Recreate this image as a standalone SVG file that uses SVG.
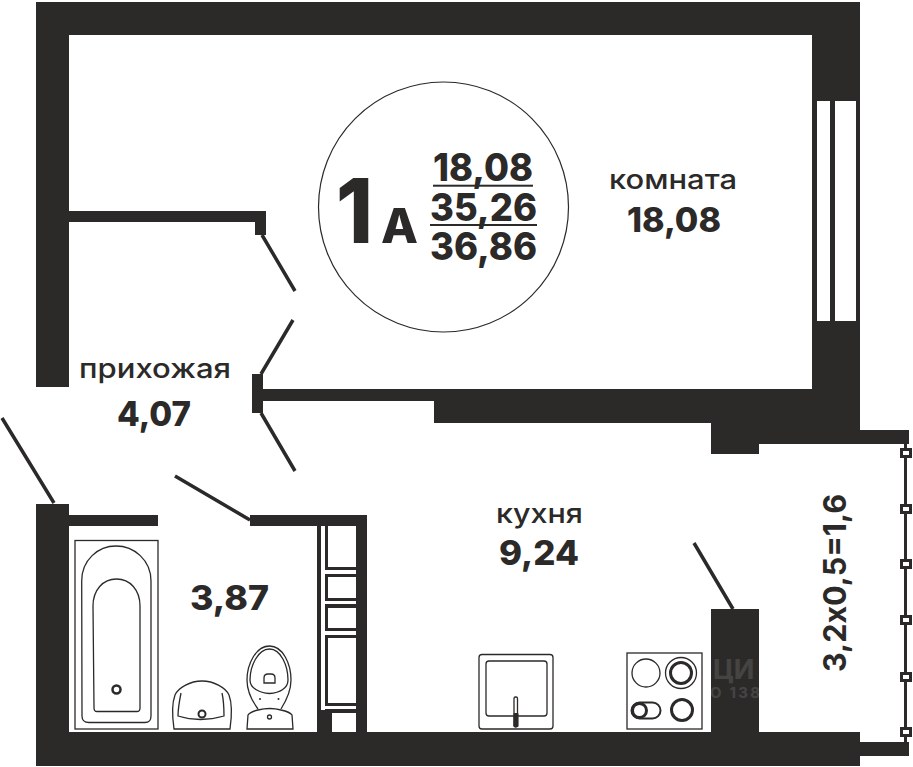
<svg xmlns="http://www.w3.org/2000/svg" width="913" height="767" viewBox="0 0 913 767">
<style>
.w{fill:#2b2a29}
.h{fill:#fff}
.t{fill:none;stroke:#2b2a29;stroke-width:1.3}
.m{fill:none;stroke:#2b2a29;stroke-width:3}
.d{stroke:#2b2a29;stroke-width:3.5;fill:none}
text{font-family:"Inter","Open Sans","Liberation Sans",sans-serif;fill:#2b2a29}
.l{font-size:27px;font-weight:500}
.n{font-size:34px;font-weight:800}
.c{font-size:38px;font-weight:800}
.p{fill:#fff;stroke:#2b2a29;stroke-width:3}
</style>
<rect width="913" height="767" fill="#fff"/>
<g id="walls">
<path class="w" d="M36 2H860V430H909V444H759V454H711V423H434V401H263V413H252V374H263V389H812V35H69V211H266V235H255V222H69V387H36Z"/>
<path class="w" d="M36 504H69V515H158V526H69V732H711V609H759V732H860V742H909V756H860V766H36Z"/>
<path class="w" d="M250 515H367V732H356V526H250Z"/>
</g>
<g id="window">
<rect class="h" x="817" y="101" width="13" height="220"/>
<rect class="h" x="835" y="101" width="21" height="220"/>
</g>
<g id="shaft">
<rect class="w" x="317" y="526" width="39" height="206"/>
<rect class="h" x="321" y="526" width="4" height="184"/>
<rect class="h" x="328" y="526" width="28" height="41"/>
<rect class="h" x="325" y="570" width="31" height="4"/>
<rect class="h" x="328" y="577" width="28" height="21"/>
<rect class="h" x="325" y="601" width="31" height="3"/>
<rect class="h" x="328" y="608" width="28" height="20"/>
<rect class="h" x="325" y="631" width="31" height="4"/>
<rect class="h" x="328" y="638" width="28" height="65"/>
<rect class="h" x="325" y="706" width="31" height="3"/>
<rect class="h" x="332" y="713" width="24" height="19"/>
</g>
<g id="doors">
<path class="d" d="M262 235L295 291M293 320L261 374M261 413L295 471"/>
<path class="d" d="M2 418L54 503M175 476L250 520M694 543L733 609"/>
</g>
<g id="badge">
<circle cx="443.5" cy="207" r="125" fill="none" stroke="#2b2a29" stroke-width="1.2"/>
<text x="336" y="243" font-size="90" font-weight="800" textLength="37" lengthAdjust="spacingAndGlyphs">1</text>
<text x="381" y="243" font-size="48" font-weight="800" textLength="37" lengthAdjust="spacingAndGlyphs">А</text>
<text class="c" x="433" y="181" textLength="100" lengthAdjust="spacingAndGlyphs">18,08</text>
<text class="c" x="430" y="220.500" textLength="107" lengthAdjust="spacingAndGlyphs">35,26</text>
<text class="c" x="430" y="260" textLength="107" lengthAdjust="spacingAndGlyphs">36,86</text>
<rect class="w" x="433" y="184.700" width="100" height="2"/>
<rect class="w" x="430" y="224" width="107" height="2"/>
</g>
<g id="room"><text class="l" x="609" y="189" textLength="128" lengthAdjust="spacingAndGlyphs">комната</text>
<text class="n" x="627" y="232" textLength="94" lengthAdjust="spacingAndGlyphs">18,08</text></g>
<g id="hall"><text class="l" x="79" y="378" textLength="152" lengthAdjust="spacingAndGlyphs">прихожая</text>
<text class="n" x="117" y="426" textLength="74" lengthAdjust="spacingAndGlyphs">4,07</text></g>
<g id="kitchen"><text class="l" x="496" y="523" textLength="87" lengthAdjust="spacingAndGlyphs">кухня</text>
<text class="n" x="499" y="565" textLength="80" lengthAdjust="spacingAndGlyphs">9,24</text>
<rect class="t" x="479" y="654.500" width="74" height="74.500" rx="3"/>
<rect class="t" x="486" y="661" width="61" height="55" rx="3"/>
<rect class="h" x="514" y="697" width="4" height="30"/>
<rect class="t" x="514" y="697" width="3.500" height="30" rx="1.500"/>
<rect class="w" x="513.500" y="713" width="5" height="14" rx="1"/>
<rect class="t" x="627" y="653" width="75" height="76"/>
<circle class="t" cx="646" cy="673" r="14"/>
<circle class="t" cx="681" cy="673" r="15.500"/>
<circle class="m" cx="681" cy="673" r="10.500"/>
<circle class="m" cx="682" cy="710" r="10.500"/>
<rect x="631.500" y="702.500" width="29" height="16" rx="8" fill="none" stroke="#2b2a29" stroke-width="2"/>
<circle class="m" cx="639.500" cy="710.500" r="7"/>
</g>
<g id="bath"><text class="n" x="190" y="610" textLength="79" lengthAdjust="spacingAndGlyphs">3,87</text>
<rect class="t" x="75" y="540.500" width="83" height="188.500"/>
<path class="t" d="M81.700 581C81.700 560 98 546 116 546S151 560 151 581V716Q151 722.500 145 722.500H89Q82 722.500 82 716Z"/>
<path class="t" d="M93 606C93 590 103 579 116.500 579S140 590 140 606V708Q140 711.500 137 711.500H97Q94 711.500 94 708Z"/>
<circle cx="116.500" cy="689.500" r="4" fill="none" stroke="#2b2a29" stroke-width="2.500"/>
<path class="t" d="M174 729C172 715 172 703 175 695C178 688 190 681 202 681S226 688 229 695C232 703 232 715 230 729Z"/>
<path class="t" d="M181 693C179 703 178 710 178 716Q200 723 224 716C224 710 224 702 222 693"/>
<circle cx="202" cy="714" r="3.500" fill="none" stroke="#2b2a29" stroke-width="2"/>
<path class="t" d="M258 709C252 701 247 692 247 680C247 664 256 646 269.500 646C283 646 291 664 291 680C291 692 286 701 281 709"/>
<path class="t" d="M269.500 649C281 649 288 666 288 680C288 688 280 693 269.500 693.500C259 693 250 688 250 680C250 666 258 649 269.500 649Z"/>
<path class="t" d="M264 683V678Q264 674 268 674H271Q275 674 275 678V683Z"/>
<circle class="w" cx="260" cy="699" r="1"/><circle class="w" cx="278.500" cy="699" r="1"/>
<path class="t" d="M247 729L248 715Q250 712 258 710Q270 707 281 710Q290 712 292 715L293 729Z"/>
<circle class="t" cx="269.500" cy="717" r="2"/>
</g>
<g id="balcony">
<text font-size="31" font-weight="700" transform="translate(846 672) rotate(-90)" textLength="178" lengthAdjust="spacingAndGlyphs">3,2х0,5=1,6</text>
<path class="m" d="M905.500 444V742"/>
<rect class="p" x="901.500" y="449.500" width="9" height="7"/>
<rect class="p" x="901.500" y="505.500" width="9" height="7"/>
<rect class="p" x="901.500" y="560.500" width="9" height="7"/>
<rect class="p" x="901.500" y="616.500" width="9" height="7"/>
<rect class="p" x="901.500" y="673.500" width="9" height="7"/>
<rect class="p" x="901.500" y="728.500" width="9" height="7"/>
</g>
<g id="watermark" opacity=".12">
<text x="713" y="679" font-size="27" font-weight="700" style="fill:#fff">ЦИ</text>
<text x="710" y="698" font-size="15" font-weight="700" textLength="50" style="fill:#fff">О 138</text>
</g>
</svg>
